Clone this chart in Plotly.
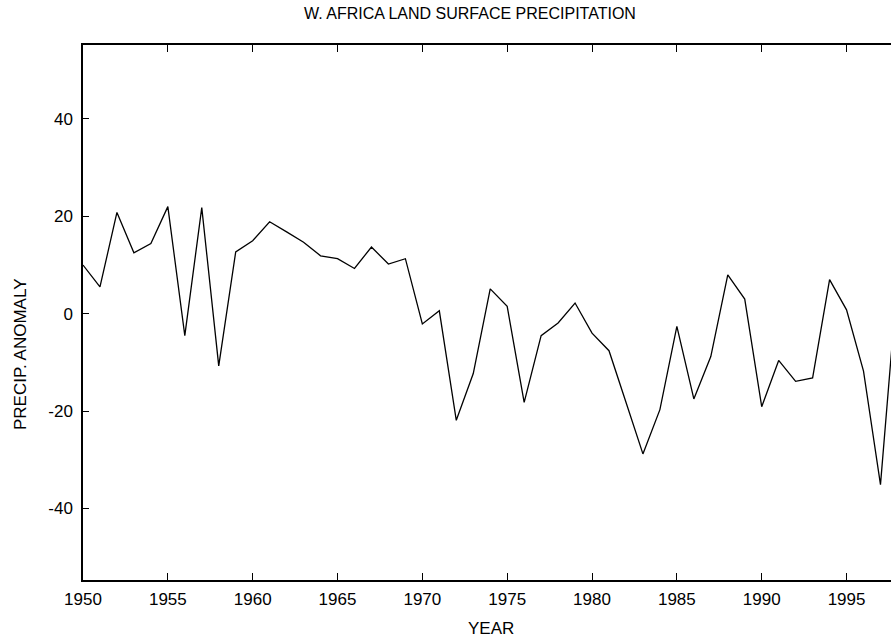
import plotly.graph_objects as go

# annual precipitation anomaly, West Africa land surface
years = list(range(1950, 1999))
anomaly = [
    10.0, 5.5, 20.8, 12.5, 14.4, 22.0, -4.5, 21.8, -10.7, 12.7,
    15.0, 18.9, 16.8, 14.7, 11.9, 11.3, 9.3, 13.7, 10.2, 11.3,
    -2.1, 0.6, -21.9, -12.3, 5.1, 1.5, -18.2, -4.5, -1.9, 2.2,
    -4.0, -7.6, -18.2, -28.8, -19.7, -2.6, -17.5, -8.8, 8.0, 3.0,
    -19.1, -9.6, -13.9, -13.2, 7.0, 0.8, -11.8, -35.1, 7.0,
]
x_ticks = [1950, 1955, 1960, 1965, 1970, 1975, 1980, 1985, 1990, 1995]
y_ticks = [-40, -20, 0, 20, 40]
y_labels = ["-40", "-20", "0", "20", "40"]

FONT = "Liberation Sans, Arial, sans-serif"

fig = go.Figure()

fig.add_trace(go.Scatter(
    x=years,
    y=anomaly,
    mode='lines',
    line=dict(color='black', width=1.3),
    showlegend=False,
    hoverinfo='x+y'
))

fig.update_layout(
    width=891,
    height=642,
    margin=dict(l=83, r=0, t=45, b=62),
    paper_bgcolor='white',
    plot_bgcolor='white',
    font=dict(family=FONT, size=17, color='black'),
    xaxis=dict(
        range=[1950, 1997.62],
        tickvals=x_ticks,
        ticks='inside',
        ticklen=7,
        tickwidth=1,
        tickcolor='black',
        showline=True,
        linecolor='black',
        linewidth=1.5,
        mirror='ticks',
        showgrid=False,
        zeroline=False,
        ticklabelstandoff=3,
    ),
    yaxis=dict(
        range=[-54.7, 55.2],
        tickvals=y_ticks,
        ticktext=y_labels,
        ticks='inside',
        ticklen=6,
        tickwidth=1,
        tickcolor='black',
        showline=True,
        linecolor='black',
        linewidth=1.5,
        showgrid=False,
        zeroline=False,
        ticklabelstandoff=5,
    ),
    annotations=[
        dict(text="W. AFRICA LAND SURFACE PRECIPITATION", xref='paper', yref='paper',
             x=(470 - 83) / 808, y=1 + (45 - 14) / 535, showarrow=False,
             xanchor='center', yanchor='middle', font=dict(size=16)),
        dict(text="YEAR", xref='paper', yref='paper',
             x=(491 - 83) / 808, y=-(628 - 580) / 535, showarrow=False,
             xanchor='center', yanchor='middle', font=dict(size=17)),
        dict(text="PRECIP. ANOMALY", xref='paper', yref='paper',
             x=-(83 - 20) / 808, y=(580 - 355) / 535, showarrow=False,
             textangle=-90, xanchor='center', yanchor='middle', font=dict(size=17)),
    ],
)

# drop the default page margin so the figure sits at the window's corner
fig.write_html("out.html", config={'displayModeBar': False},
               post_script="document.body.style.margin='0';")
